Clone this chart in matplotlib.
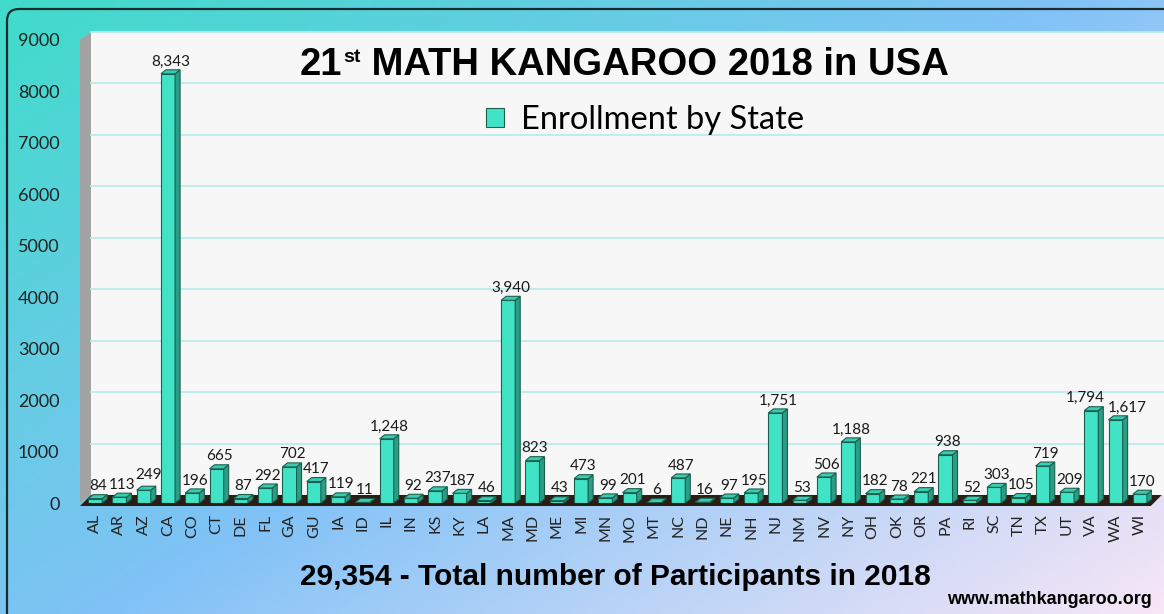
import numpy as np
import matplotlib.pyplot as plt
from matplotlib.patches import Polygon, Rectangle, FancyBboxPatch
from matplotlib.colors import LinearSegmentedColormap

plt.rcParams['font.family'] = ['Lato', 'DejaVu Sans']

# data
states = ["AL", "AR", "AZ", "CA", "CO", "CT", "DE", "FL", "GA", "GU", "IA", "ID",
          "IL", "IN", "KS", "KY", "LA", "MA", "MD", "ME", "MI", "MN", "MO", "MT",
          "NC", "ND", "NE", "NH", "NJ", "NM", "NV", "NY", "OH", "OK", "OR", "PA",
          "RI", "SC", "TN", "TX", "UT", "VA", "WA", "WI"]
enrollment = [84, 113, 249, 8343, 196, 665, 87, 292, 702, 417, 119, 11,
              1248, 92, 237, 187, 46, 3940, 823, 43, 473, 99, 201, 6,
              487, 16, 97, 195, 1751, 53, 506, 1188, 182, 78, 221, 938,
              52, 303, 105, 719, 209, 1794, 1617, 170]
y_ticks = [0, 1000, 2000, 3000, 4000, 5000, 6000, 7000, 8000, 9000]
total = sum(enrollment)

# hand-nudged value labels (pixels), as in the original
label_nudge = {"AZ": (2, 3), "VA": (-8, 0), "WA": (9, 0)}

W, H = 1164, 614
fig = plt.figure(figsize=(W / 100, H / 100), dpi=100)

# gradient background, pixel coordinates
bg = fig.add_axes([0, 0, 1, 1], zorder=0)
bg.set_axis_off()
gx, gy = np.meshgrid(np.linspace(0, 1, 300), np.linspace(0, 1, 160))
cmap = LinearSegmentedColormap.from_list("bg", ["#3fdcca", "#80c2f6", "#f7e6f6"])
bg.imshow((gx * 0.55 + gy * 0.45), cmap=cmap, extent=(0, W, H, 0), aspect='auto')
bg.set_xlim(0, W)
bg.set_ylim(H, 0)
bg.add_patch(FancyBboxPatch((7, 9), W + 50, H + 50,
                            boxstyle="round,pad=0,rounding_size=12",
                            fc="none", ec="#1c2b30", lw=1.6))

# main axes
ax_l, ax_r, ax_t, ax_b = 83, 1152, 40, 503
ax = fig.add_axes([ax_l / W, 1 - ax_b / H, (ax_r - ax_l) / W, (ax_b - ax_t) / H], zorder=1)
ax.set_facecolor("none")
ax.set_xlim(-0.5, len(states) - 0.5)
ax.set_ylim(0, 9000)
for s in ax.spines.values():
    s.set_visible(False)

px_x = (ax_r - ax_l) / len(states)
px_y = (ax_b - ax_t) / 9000

# walls and floor
x_w = -0.5 - 3 / px_x
wdx, wdy = 11 / px_x, 8 / px_y
ax.add_patch(Rectangle((x_w + wdx, wdy), 50, 9000, fc="#f7f7f7", ec="none",
                       clip_on=False, zorder=0))
ax.add_patch(Polygon([(x_w, 0), (x_w, 9000), (x_w + wdx, 9000 + wdy), (x_w + wdx, wdy)],
                     closed=True, fc="#a3a3a3", ec="none", clip_on=False, zorder=0.5))
for yv in y_ticks[1:]:
    ax.plot([x_w + wdx, 50], [yv + wdy] * 2, color="#b8ecea", lw=1.3,
            clip_on=False, zorder=0.6)
x_end = len(states) - 0.55
ax.add_patch(Polygon([(x_w, -3 / px_y), (x_end, -3 / px_y), (x_end + wdx, wdy),
                      (x_w + wdx, wdy)],
                     closed=True, fc="#2b1c14", ec="none", clip_on=False, zorder=1))

# 3D bars
bw = 0.58
bdx, bdy = 5 / px_x, 4 / px_y
front, side, top, edge = "#40e3c6", "#2a9e84", "#38cdb1", "#1d5f4f"
xs = np.arange(len(states))
ax.bar(xs, enrollment, width=bw, color=front, edgecolor=edge, lw=0.8, zorder=3,
       label="Enrollment by State")
for x, st, v in zip(xs, states, enrollment):
    r = x + bw / 2
    l = x - bw / 2
    ax.add_patch(Polygon([(r, 0), (r + bdx, bdy), (r + bdx, v + bdy), (r, v)],
                         closed=True, fc=side, ec=edge, lw=0.8, zorder=3))
    ax.add_patch(Polygon([(l, v), (r, v), (r + bdx, v + bdy), (l + bdx, v + bdy)],
                         closed=True, fc=top, ec=edge, lw=0.8, zorder=3))
    nx, ny = label_nudge.get(st, (0, 0))
    ax.annotate(f"{v:,}", (x + bdx / 2, v + bdy), xytext=(nx * 0.72, 1 + ny * 0.72),
                textcoords="offset points", ha="center", va="bottom",
                fontsize=11, color="#1a1a1a", zorder=4)

ax.set_xticks(xs, states, rotation=90)
ax.set_yticks(y_ticks)
ax.tick_params(axis="x", length=0, pad=8, labelsize=11.5, labelcolor="#222222")
ax.tick_params(axis="y", length=0, pad=17, labelsize=13, labelcolor="#222222")

ax.legend(loc="center", bbox_to_anchor=(645 / W, 1 - 120 / H),
          bbox_transform=fig.transFigure, frameon=False, fontsize=23.5,
          handlelength=0.55, handleheight=0.55, handletextpad=0.5)

# titles on an overlay in pixel coordinates
ov = fig.add_axes([0, 0, 1, 1], zorder=2)
ov.set_axis_off()
ov.set_xlim(0, W)
ov.set_ylim(H, 0)
t1 = ov.text(300, 75, "21", fontsize=27.5, fontweight="bold",
             family="Liberation Sans", va="baseline")
t2 = ov.annotate("st", xy=(1.02, 0.95), xycoords=t1, fontsize=14, fontweight="bold",
                 family="Liberation Sans", ha="left", va="top")
ov.annotate(" MATH KANGAROO 2018 in USA", xy=(1, 0), xycoords=(t2, t1),
            fontsize=27.5, fontweight="bold", family="Liberation Sans",
            ha="left", va="bottom")
ov.text(300, 577, f"{total:,} - Total number of Participants in 2018",
        fontsize=21.5, fontweight="bold", family="Liberation Sans",
        va="center", ha="left")
ov.text(1152, 600, "www.mathkangaroo.org", fontsize=13, fontweight="bold",
        family="Liberation Sans", va="center", ha="right")

fig.savefig("out.png", dpi=100)
